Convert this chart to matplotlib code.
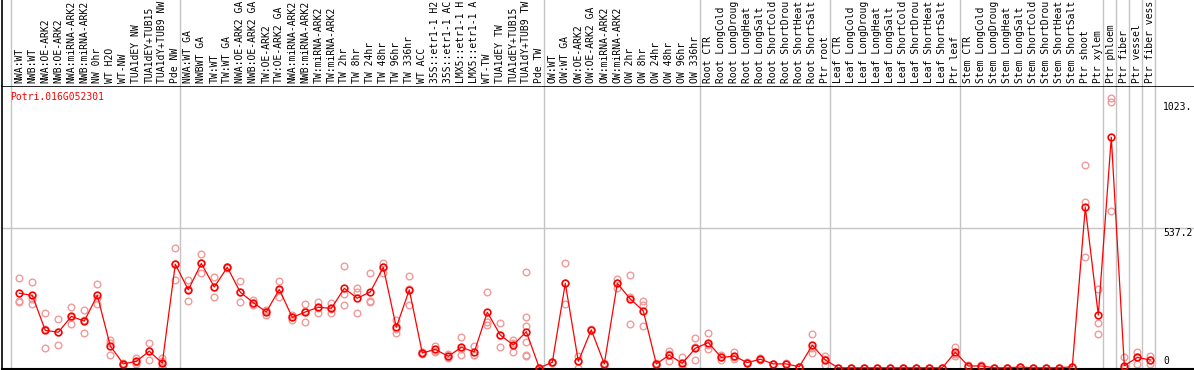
"""Expression profile of Potri.016G052301 across poplar samples (line + replicates)."""

import matplotlib

matplotlib.use("Agg")
import matplotlib.pyplot as plt
import numpy as np

labels = [
    # nw group
    "NWA:WT", "NWB:WT", "NWA:OE-ARK2", "NWB:OE-ARK2", "NWA:miRNA-ARK2",
    "NWB:miRNA-ARK2", "NW 0hr", "WT H2O", "WT-NW", "TUA1dEY NW",
    "TUA1dEY+TUB15", "TUA1dY+TUB9 NW", "Pde NW",
    # tw group
    "NWA:WT GA", "NWBWT GA", "TW:WT", "TW:WT GA", "NWA:OE-ARK2 GA",
    "NWB:OE-ARK2 GA", "TW:OE-ARK2", "TW:OE-ARK2 GA", "NWA:miRNA-ARK2",
    "NWB:miRNA-ARK2", "TW:miRNA-ARK2", "TW:miRNA-ARK2", "TW 2hr", "TW 8hr",
    "TW 24hr", "TW 48hr", "TW 96hr", "TW 336hr", "WT ACC", "35S::etr1-1 H2",
    "35S::etr1-1 AC", "LMX5::etr1-1 H", "LMX5::etr1-1 A", "WT-TW",
    "TUA1dEY TW", "TUA1dEY+TUB15", "TUA1dY+TUB9 TW", "Pde TW",
    # ow group
    "OW:WT", "OW:WT GA", "OW:OE-ARK2", "OW:OE-ARK2 GA", "OW:miRNA-ARK2",
    "OW:miRNA-ARK2", "OW 2hr", "OW 8hr", "OW 24hr", "OW 48hr", "OW 96hr",
    "OW 336hr",
    # root
    "Root CTR", "Root LongCold", "Root LongDroug", "Root LongHeat",
    "Root LongSalt", "Root ShortCold", "Root ShortDrou", "Root ShortHeat",
    "Root ShortSalt", "Ptr root",
    # leaf
    "Leaf CTR", "Leaf LongCold", "Leaf LongDroug", "Leaf LongHeat",
    "Leaf LongSalt", "Leaf ShortCold", "Leaf ShortDrou", "Leaf ShortHeat",
    "Leaf ShortSalt", "Ptr leaf",
    # stem
    "Stem CTR", "Stem LongCold", "Stem LongDroug", "Stem LongHeat",
    "Stem LongSalt", "Stem ShortCold", "Stem ShortDrou", "Stem ShortHeat",
    "Stem ShortSalt", "Ptr shoot", "Ptr xylem",
    "Ptr phloem", "Ptr fiber", "Ptr vessel", "Ptr fiber vess",
]

means = [
    287, 279, 144, 137, 198, 180, 279, 84, 15, 25, 64, 18, 399,
    300, 402, 311, 387, 291, 251, 215, 302, 194, 215, 233, 229, 306, 268,
    292, 387, 156, 300, 57, 71, 44, 79, 61, 214, 126, 88, 139, 0,
    21, 325, 25, 146, 15, 325, 265, 219, 15, 49, 17, 75,
    97, 40, 45, 20, 33, 15, 15, 4, 87, 30,
    0, 0, 0, 0, 0, 0, 0, 0, 0, 60,
    7, 7, 0, 0, 3, 0, 0, 0, 4, 618, 203,
    888, 8, 40, 30,
]

reps = [
    [345, 258, 255], [329, 245, 263], [210, 75, 148], [187, 87, 137],
    [233, 167, 195], [221, 133, 185], [322, 245, 270], [107, 48, 94],
    [10, 15, 20], [39, 13, 22], [96, 31, 64], [39, 4, 0, 28],
    [460, 338, 399],
    [338, 256, 305], [438, 364, 404], [348, 271, 313], [390, 385, 387],
    [334, 253, 290], [262, 241, 251], [223, 203, 218], [334, 274, 300],
    [203, 184, 195], [245, 178, 220], [255, 212, 232], [251, 210, 226],
    [392, 242, 284], [306, 210, 293], [364, 255, 258], [405, 390, 366],
    [184, 135, 150], [355, 242, 303], [60, 52, 59], [85, 62, 66],
    [52, 39, 41], [117, 48, 72], [84, 49, 50], [291, 178, 165],
    [171, 79, 128], [107, 62, 95], [369, 194, 162, 98, 49, 45], [0, 0, 0],
    [21, 24, 18], [402, 245, 328], [47, 0, 28], [146, 144, 148],
    [15, 12, 18], [342, 308, 325], [356, 167, 272], [257, 242, 161],
    [15, 10, 20], [66, 27, 54], [40, 0, 11], [114, 30, 81],
    [133, 72, 86], [50, 30, 40], [62, 33, 40], [20, 18, 22], [33, 30, 36],
    [15, 14, 16], [15, 13, 17], [4, 3, 5], [130, 56, 75], [47, 10, 33],
    [0, 0, 0], [0, 0, 0], [0, 0, 0], [0, 0, 0], [0, 0, 0], [0, 0, 0],
    [0, 0, 0], [0, 0, 0], [0, 0, 0], [81, 45, 54],
    [10, 5, 6], [12, 5, 4], [0, 0, 0], [0, 0, 0], [5, 2, 2], [0, 0, 0],
    [0, 0, 0], [0, 0, 0], [5, 3, 4], [781, 640, 428], [302, 174, 130],
    [1038, 1025, 604], [40, 0, 0], [62, 15, 43], [45, 15, 30],
]

# sample index where each group starts (plus the final edge)
group_edges = [0, 13, 41, 53, 63, 73, 84, 85, 86, 87, 88]
gene = "Potri.016G052301"
tick_values = [1023, 537.2, 0]
tick_texts = ["1023.", "537.2", "0"]

W, H = 1194, 370
MONO = "DejaVu Sans Mono"
GRID = "#c4c4c4"

fig = plt.figure(figsize=(W / 100, H / 100), dpi=100)

# pixel geometry of the plotting strip
top_px, bot_px, left_px = 86, 368.5, 2
ax = fig.add_axes([left_px / W, (H - bot_px) / H, (W - left_px) / W, (bot_px - top_px) / H])
hdr = fig.add_axes([left_px / W, (H - top_px) / H, (W - left_px) / W, top_px / H])

# x: sample j sits at 19.3 + 13*j pixels
x0, step = 19.3, 13.0
xlim = ((left_px - x0) / step, (W - x0) / step)
zero_px, scale = 367.8, 0.2597
ylim = (-(bot_px - zero_px) / scale, (zero_px - top_px) / scale)

x = np.arange(len(means))
for a in (ax, hdr):
    a.set_xlim(*xlim)
    a.set_xticks([])
    a.set_yticks([])
ax.set_ylim(*ylim)
hdr.set_ylim(0, 1)

edge_off = 8.6 / step
for e in group_edges:
    ax.axvline(e - edge_off, color=GRID, lw=1.0, zorder=0)
    hdr.axvline(e - edge_off, color=GRID, lw=1.0, zorder=0)
ax.axhline(537.2, color=GRID, lw=1.0, zorder=0)

# replicates first, then the mean profile on top
for i, r in enumerate(reps):
    ax.plot([i] * len(r), r, "o", ms=4.8, mfc="none", mec="#f09a9a", mew=1.0, zorder=2)
ax.plot(x, means, "-", color="red", lw=0.9, zorder=3)
ax.plot(x, means, "o", ms=4.8, mfc="none", mec="red", mew=1.2, zorder=4)

for i, lab in enumerate(labels):
    hdr.text(i, 3 / top_px, lab, rotation=90, ha="center", va="bottom",
             family=MONO, fontsize=7, color="black")

ax.text((10 - x0) / step, 1 - 11 / (bot_px - top_px), gene,
        transform=ax.get_xaxis_transform(),
        family=MONO, fontsize=7, color="red", va="center", ha="left")

tx = (1163 - x0) / step
for v, t in zip(tick_values, tick_texts):
    if v == 0:
        ax.text(tx + 0.05, v + 8, t, family=MONO, fontsize=7, va="bottom", ha="left")
    else:
        ax.text(tx, v, t, family=MONO, fontsize=7, va="top", ha="left")

for a in (ax, hdr):
    for s in a.spines.values():
        s.set_visible(False)
    a.spines["left"].set_visible(True)
    a.spines["left"].set_linewidth(1.2)
ax.spines["top"].set_visible(True)
ax.spines["bottom"].set_visible(True)
ax.spines["top"].set_linewidth(1.2)
ax.spines["bottom"].set_linewidth(1.5)

fig.savefig("out.png", dpi=100)
